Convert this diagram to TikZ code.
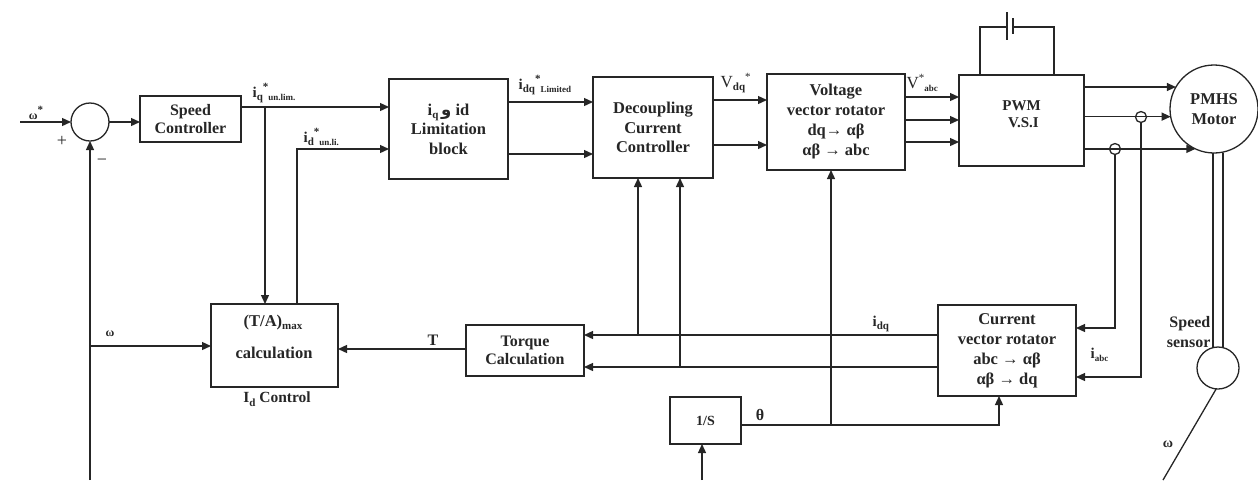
\documentclass[tikz,border=0pt]{standalone}
\usepackage{fontspec}
\setmainfont{Liberation Serif}
\newfontfamily\arabicfont[Script=Arabic]{DejaVu Sans}
\usetikzlibrary{arrows.meta,calc}
\newcommand{\mysub}[1]{\raisebox{-3.5pt}{\fontsize{11}{11}\selectfont #1}}
\newcommand{\mysubs}[1]{\raisebox{-3.5pt}{\fontsize{9}{9}\selectfont #1}}
\newcommand{\mysup}[1]{\raisebox{6.5pt}{\fontsize{11}{11}\selectfont #1}}
\begin{document}
\begin{tikzpicture}[x=1pt,y=-1pt,
  line width=1.3pt, color=black!85,
  arr/.style={-{Triangle[length=9pt,width=8pt]}},
  blk/.style={draw, rectangle, outer sep=0pt, inner sep=2pt, align=center,
    font=\fontsize{16.5}{19.5}\selectfont\bfseries},
  crc/.style={draw, circle, outer sep=0pt, inner sep=0pt},
  lbl/.style={font=\fontsize{15}{17}\selectfont\bfseries, inner sep=0pt}
]
\useasboundingbox (0,0) rectangle (1258,480);

% blocks
\node[crc, minimum size=38pt] (sum) at (90,122) {};
\node[blk, minimum width=101pt, minimum height=46pt, font=\fontsize{16}{18}\selectfont\bfseries] (sc) at (190.5,119) {Speed\\Controller};
\node[blk, minimum width=119pt, minimum height=100pt] (lim) at (448.5,129)
  {i\mysub{q}\,{\arabicfont و} id\\Limitation\\block};
\node[blk, minimum width=120pt, minimum height=101pt] (dcc) at (653,127.5)
  {Decoupling\\Current\\Controller};
\node[blk, minimum width=138pt, minimum height=96pt, font=\fontsize{16.5}{20}\selectfont\bfseries] (vvr) at (836,122)
  {Voltage\\vector rotator\\dq→ αβ\\αβ → abc};
\node[blk, minimum width=125pt, minimum height=91pt] (pwm) at (1021.5,120.5) {};
\node[lbl, align=center, font=\fontsize{15}{17}\selectfont\bfseries] (pwmtxt) at ([yshift=6pt]pwm.center) {PWM\\\ V.S.I};
\node[crc, minimum size=88pt, align=center, font=\fontsize{16.5}{20}\selectfont\bfseries] (motor) at (1214,109) {PMHS\\Motor};
\node[blk, minimum width=127pt, minimum height=83pt] (ta) at (274.5,345.5) {};
\node[lbl, font=\fontsize{16.5}{18}\selectfont\bfseries, anchor=base] (tatop) at (273,326) {(T/A)\mysub{max}};
\node[lbl, font=\fontsize{16.5}{18}\selectfont\bfseries, anchor=base] (tamid) at (274,358) {calculation};
\node[lbl, font=\fontsize{15.5}{16}\selectfont\bfseries] (idc) at (277,399) {I\mysub{d} Control};
\node[blk, minimum width=118pt, minimum height=51pt, font=\fontsize{16}{18}\selectfont\bfseries] (tc) at (525,350.5) {Torque\\Calculation};
\node[blk, minimum width=138pt, minimum height=91pt, font=\fontsize{16.5}{20}\selectfont\bfseries] (cvr) at (1007,350.5)
  {Current\\vector rotator\\abc → αβ\\αβ → dq};
\node[blk, minimum width=71pt, minimum height=47pt, font=\fontsize{14}{16}\selectfont\bfseries] (ins) at (705.5,420.5) {1/S};
\node[crc, minimum size=42pt] (ss) at (1218,368) {};
\node[lbl, anchor=east, align=right, font=\fontsize{16}{20}\selectfont\bfseries] (sslbl) at (1211,332) {Speed\\sensor};

% free ends
\coordinate (win) at (20,122);
\coordinate (fb) at (90,480);
\coordinate (sin) at (702,480);
\coordinate (wout) at (1163,480);
\coordinate (br) at (265,107);

% forward path
\draw[arr] (win) -- (sum.west);
\draw[arr] (sum.east) -- (sc.west |- sum.east);
\draw[arr] (sc.east |- 0,107) -- (lim.west |- 0,107);
\draw[arr] (br) -- (br |- ta.north);
\draw[arr] (ta.north -| 297,0) -- (297,149) -- (lim.west |- 0,149);
\draw[arr] (lim.east |- 0,102) -- (dcc.west |- 0,102);
\draw[arr] (lim.east |- 0,154) -- (dcc.west |- 0,154);
\draw[arr] (dcc.east |- 0,100) -- (vvr.west |- 0,100);
\draw[arr] (dcc.east |- 0,145) -- (vvr.west |- 0,145);
\foreach \yy in {97,120,142} {\draw[arr] (vvr.east |- 0,\yy) -- (pwm.west |- 0,\yy);}

% DC link
\draw (pwm.north -| 980,0) -- (980,27) -- (1007,27);
\draw (1007,12) -- (1007,40);
\draw (1013,18) -- (1013,34);
\draw (1013,27) -- (1054,27) -- (pwm.north -| 1054,0);

% PWM to motor
\draw[arr] (pwm.east |- motor.150) -- (motor.150);
\draw[arr] (pwm.east |- motor.190.5) -- (motor.190.5);
\draw[arr] (pwm.east |- motor.245) -- (motor.245);
\node[crc, minimum size=11pt] (cs1) at (1141,117) {};
\node[crc, minimum size=11pt] (cs2) at (1115,149) {};
\draw[arr] (cs2.south) -- (cs2.south |- 0,328) -- (cvr.east |- 0,328);
\draw[arr] (cs1.south) -- (cs1.south |- 0,377) -- (cvr.east |- 0,377);

% shaft and speed sensor
\draw ([xshift=-1pt]motor.south) -- ([xshift=-5pt]ss.north);
\draw ([xshift=9pt]motor.south) -- ([xshift=5pt]ss.north);
\draw (ss.265) -- (wout);

% feedback paths
\draw[arr] (cvr.west |- 0,335) -- (tc.east |- 0,335);
\draw[arr] (cvr.west |- 0,367) -- (tc.east |- 0,367);
\draw[arr] (638,335) -- (dcc.south -| 638,0);
\draw[arr] (680,367) -- (dcc.south -| 680,0);
\draw[arr] (tc.west |- 0,349) -- (ta.east |- 0,349);
\draw[arr] (fb) -- (sum.south);
\draw[arr] (90,346) -- (ta.west |- 0,346);
\draw[arr] (sin) -- (ins.south -| sin);
\draw[arr] (ins.east |- 0,425) -- (999,425) -- (cvr.south -| 999,0);
\draw[arr] (831,425) -- (vvr.south -| 831,0);

% labels
\node[lbl, font=\fontsize{12}{12}\selectfont\bfseries] (lw) at (36,113) {ω\mysup{*}};
\node[lbl, font=\fontsize{18}{18}\selectfont] (lplus) at (62,141) {+};
\node[lbl, font=\fontsize{18}{18}\selectfont] (lminus) at (102,162) {−};
\node[lbl, anchor=base west] (liq) at (252,97) {i\mysub{q}\mysup{*}\mysubs{un.lim.}};
\node[lbl, anchor=base west] (lid) at (303,142) {i\mysub{d}\mysup{*}\mysubs{un.li.}};
\node[lbl, anchor=base west] (lidq) at (518,89) {i\mysub{dq}\mysup{*}\mysubs{Limited}};
\node[lbl, anchor=base west, font=\fontsize{17}{17}\selectfont] (lvdq) at (720,87) {V\mysub{\bfseries dq}\mysup{*}};
\node[lbl, anchor=base west, font=\fontsize{17}{17}\selectfont] (lvabc) at (906,88) {V\mysup{*}\mysubs{\bfseries abc}};
\node[lbl, anchor=base west] (lidq2) at (872,326) {i\mysub{dq}};
\node[lbl, anchor=base west, font=\fontsize{16}{16}\selectfont\bfseries] (lT) at (427,345) {T};
\node[lbl, font=\fontsize{12}{12}\selectfont\bfseries] (lw2) at (110,334) {ω};
\node[lbl, font=\fontsize{16}{16}\selectfont\bfseries] (lth) at (760,415) {θ};
\node[lbl, anchor=base west] (liabc) at (1090,358) {i\mysubs{abc}};
\node[lbl, font=\fontsize{14}{14}\selectfont\bfseries] (lw3) at (1168,444) {ω};
\end{tikzpicture}
\end{document}
